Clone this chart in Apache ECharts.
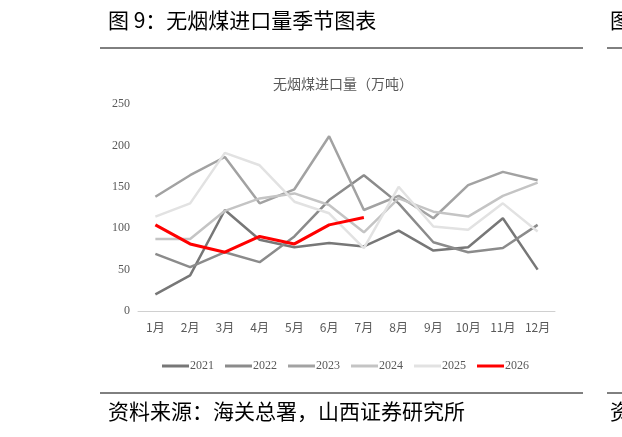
<!DOCTYPE html>
<html>
<head>
<meta charset="utf-8">
<script src="https://cdn.jsdelivr.net/npm/echarts@6/dist/echarts.min.js"></script>
<style>
  html, body { margin: 0; padding: 0; background: #fff; }
  #main { width: 622px; height: 437px; }
</style>
</head>
<body>
<div id="main"></div>
<script>
// 月份
var months = ['1月', '2月', '3月', '4月', '5月', '6月', '7月', '8月', '9月', '10月', '11月', '12月'];
var years = ['2021', '2022', '2023', '2024', '2025', '2026'];

// 各年无烟煤进口量（万吨）
var y2021 = [20, 43, 122, 86, 77, 82, 78, 97, 73, 77, 112, 50];
var y2022 = [69, 53, 71, 59, 90, 134, 164, 130, 83, 71, 76, 104];
var y2023 = [138, 164, 186, 130, 147, 211, 122, 139, 112, 152, 168, 158];
var y2024 = [87, 87, 121, 136, 142, 128, 95, 136, 120, 114, 139, 155];
var y2025 = [114, 130, 191, 176, 132, 118, 76, 150, 102, 98, 130, 96];
var y2026 = [104, 81, 71, 90, 81, 104, 113];

var colors = ['#777777', '#8b8b8b', '#a2a2a2', '#c4c4c4', '#e2e2e2', '#ff0000'];
var allData = [y2021, y2022, y2023, y2024, y2025, y2026];

var chart = echarts.init(document.getElementById('main'));

var series = years.map(function (name, i) {
    return {
        name: name,
        type: 'line',
        data: allData[i],
        symbol: 'none',
        z: i === 5 ? 10 : 2 + i,
        lineStyle: { width: i === 5 ? 3 : 2.5, color: colors[i] },
        itemStyle: { color: colors[i] }
    };
});

var option = {
    animation: false,
    title: {
        text: '无烟煤进口量（万吨）',
        left: 338,
        textAlign: 'center',
        top: 72,
        textStyle: { fontSize: 14, fontWeight: 'normal', color: '#595959', fontFamily: 'Noto Sans CJK SC' }
    },
    legend: {
        data: years,
        left: 157,
        top: 355,
        itemWidth: 27,
        itemHeight: 3,
        itemGap: 11,
        icon: 'rect',
        textStyle: { fontSize: 12, color: '#595959', fontFamily: 'Liberation Serif', padding: [0, 0, 0, -4] }
    },
    grid: { left: 138, right: 67, top: 104, bottom: 126 },
    xAxis: {
        type: 'category',
        data: months,
        boundaryGap: true,
        axisLine: { lineStyle: { color: '#d0d0d0', width: 1 } },
        axisTick: { show: false },
        axisLabel: { color: '#595959', fontSize: 12, margin: 10, fontFamily: 'Noto Sans CJK SC' }
    },
    yAxis: {
        type: 'value',
        min: 0,
        max: 250,
        interval: 50,
        axisLine: { show: false },
        axisTick: { show: false },
        splitLine: { show: false },
        axisLabel: { color: '#595959', fontSize: 12, margin: 8, fontFamily: 'Liberation Serif' }
    },
    graphic: [
        { type: 'text', left: 108, top: 10, style: { text: '图 9：无烟煤进口量季节图表', fontSize: 21, fill: '#000', fontFamily: 'Noto Sans CJK SC' } },
        { type: 'text', left: 610, top: 10, style: { text: '图', fontSize: 21, fill: '#000', fontFamily: 'Noto Sans CJK SC' } },
        { type: 'line', shape: { x1: 100, y1: 48, x2: 583, y2: 48 }, style: { stroke: '#000', lineWidth: 1 } },
        { type: 'line', shape: { x1: 607, y1: 48, x2: 622, y2: 48 }, style: { stroke: '#000', lineWidth: 1 } },
        { type: 'line', shape: { x1: 100, y1: 393, x2: 583, y2: 393 }, style: { stroke: '#000', lineWidth: 1 } },
        { type: 'line', shape: { x1: 607, y1: 393, x2: 622, y2: 393 }, style: { stroke: '#000', lineWidth: 1 } },
        { type: 'text', left: 108, top: 401, style: { text: '资料来源：海关总署，山西证券研究所', fontSize: 21, fill: '#000', fontFamily: 'Noto Sans CJK SC' } },
        { type: 'text', left: 610, top: 401, style: { text: '资', fontSize: 21, fill: '#000', fontFamily: 'Noto Sans CJK SC' } }
    ],
    series: series
};

chart.setOption(option);
</script>
</body>
</html>
